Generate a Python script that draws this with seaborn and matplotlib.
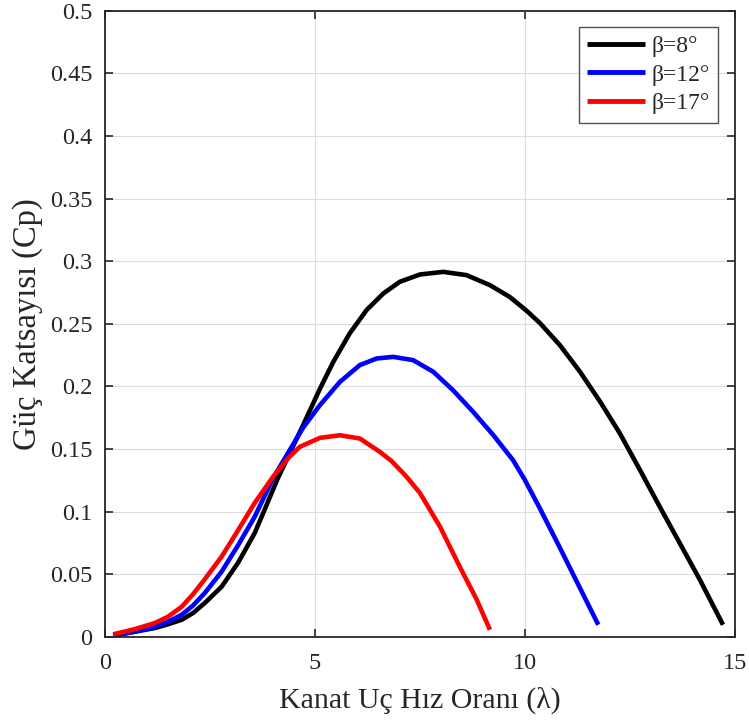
import numpy as np
import pandas as pd
import seaborn as sns
import matplotlib.pyplot as plt

# values (tip speed ratio vs power coefficient)
lam_8 = [0.2, 0.7, 1.19, 1.5, 1.83, 2.1, 2.38, 2.78, 3.17, 3.57, 3.81, 4.11, 4.72, 5.12, 5.44, 5.83,
         6.23, 6.63, 7.02, 7.5, 8.06, 8.61, 9.17, 9.64, 10.04, 10.36, 10.83, 11.31, 11.79, 12.26,
         12.74, 13.21, 13.69, 14.17, 14.72]
cp_8 = [0.001, 0.004, 0.007, 0.010, 0.0136, 0.019, 0.027, 0.040, 0.059, 0.083, 0.102, 0.126, 0.169, 0.198, 0.2196, 0.2423,
        0.2609, 0.2742, 0.2835, 0.2894, 0.2915, 0.2889, 0.2809, 0.2715, 0.2605, 0.2506, 0.2332, 0.2119, 0.188, 0.1627,
        0.1334, 0.1041, 0.0748, 0.0455, 0.0096]

lam_12 = [0.2, 0.7, 1.19, 1.5, 1.83, 2.1, 2.38, 2.78, 3.17, 3.57, 4.01, 4.72, 5.12, 5.6, 6.07, 6.47,
          6.87, 7.34, 7.82, 8.29, 8.77, 9.25, 9.72, 10.0, 10.36, 10.83, 11.31, 11.75]
cp_12 = [0.001, 0.004, 0.008, 0.012, 0.0176, 0.025, 0.035, 0.052, 0.073, 0.096, 0.127, 0.167, 0.185, 0.2037, 0.217, 0.2223,
         0.2236, 0.221, 0.2117, 0.197, 0.1797, 0.1611, 0.1411, 0.1254, 0.1025, 0.0715, 0.0392, 0.0096]

lam_17 = [0.2, 0.7, 1.19, 1.5, 1.83, 2.1, 2.38, 2.78, 3.17, 3.57, 4.01, 4.4, 4.64, 5.12, 5.6, 6.07,
          6.55, 6.83, 7.18, 7.5, 7.98, 8.45, 8.85, 9.17]
cp_17 = [0.002, 0.006, 0.011, 0.016, 0.024, 0.034, 0.046, 0.064, 0.085, 0.107, 0.128, 0.144, 0.1517, 0.1589, 0.161, 0.1584,
         0.1477, 0.1403, 0.128, 0.115, 0.088, 0.056, 0.030, 0.0056]

labels = ['β=8°', 'β=12°', 'β=17°']
colors = ['black', 'blue', 'red']

frames = []
for lab, x, y in zip(labels, [lam_8, lam_12, lam_17], [cp_8, cp_12, cp_17]):
    frames.append(pd.DataFrame({'lam': x, 'cp': y, 'beta': lab}))
df = pd.concat(frames, ignore_index=True)

sns.set_style('white')
plt.rcParams['font.family'] = ['Liberation Serif', 'DejaVu Serif']

fig = plt.figure(figsize=(7.49, 7.22), dpi=100)
ax = fig.add_axes([0.140, 0.118, 0.841, 0.867])

sns.lineplot(data=df, x='lam', y='cp', hue='beta', hue_order=labels,
             palette=colors, linewidth=3.3, sort=False, ax=ax,
             solid_joinstyle='round', solid_capstyle='butt')

ax.set_xlim(0, 15)
ax.set_ylim(0, 0.5)
ax.set_xticks([0, 5, 10, 15])
ax.set_yticks(np.arange(0, 0.51, 0.05))
ax.set_yticklabels(['0', '0.05', '0.1', '0.15', '0.2', '0.25', '0.3', '0.35', '0.4', '0.45', '0.5'])
ax.grid(True, color='#dcdcdc', linewidth=0.8)
ax.set_axisbelow(True)
ax.tick_params(direction='in', length=6, width=1.2, colors='#262626',
               labelsize=17.5, top=True, right=True, bottom=True, left=True)
ax.tick_params(axis='x', pad=12)
ax.tick_params(axis='y', pad=9)
for s in ax.spines.values():
    s.set_color('#262626')
    s.set_linewidth(1.3)

ax.set_xlabel('Kanat Uç Hız Oranı (λ)', fontsize=21.5, color='#262626', labelpad=9)
ax.set_ylabel('Güç Katsayısı (Cp)', fontsize=23.5, color='#262626', labelpad=5)

leg = ax.legend(loc='upper right', fontsize=17, frameon=True, fancybox=False,
                handlelength=2.45, borderaxespad=0.7, labelspacing=0.3,
                handletextpad=0.3, borderpad=0.35)
leg.get_frame().set_edgecolor('#262626')
leg.get_frame().set_linewidth(1)
for h in leg.get_lines():
    h.set_linewidth(3.5)

fig.savefig('out.png', dpi=100)
